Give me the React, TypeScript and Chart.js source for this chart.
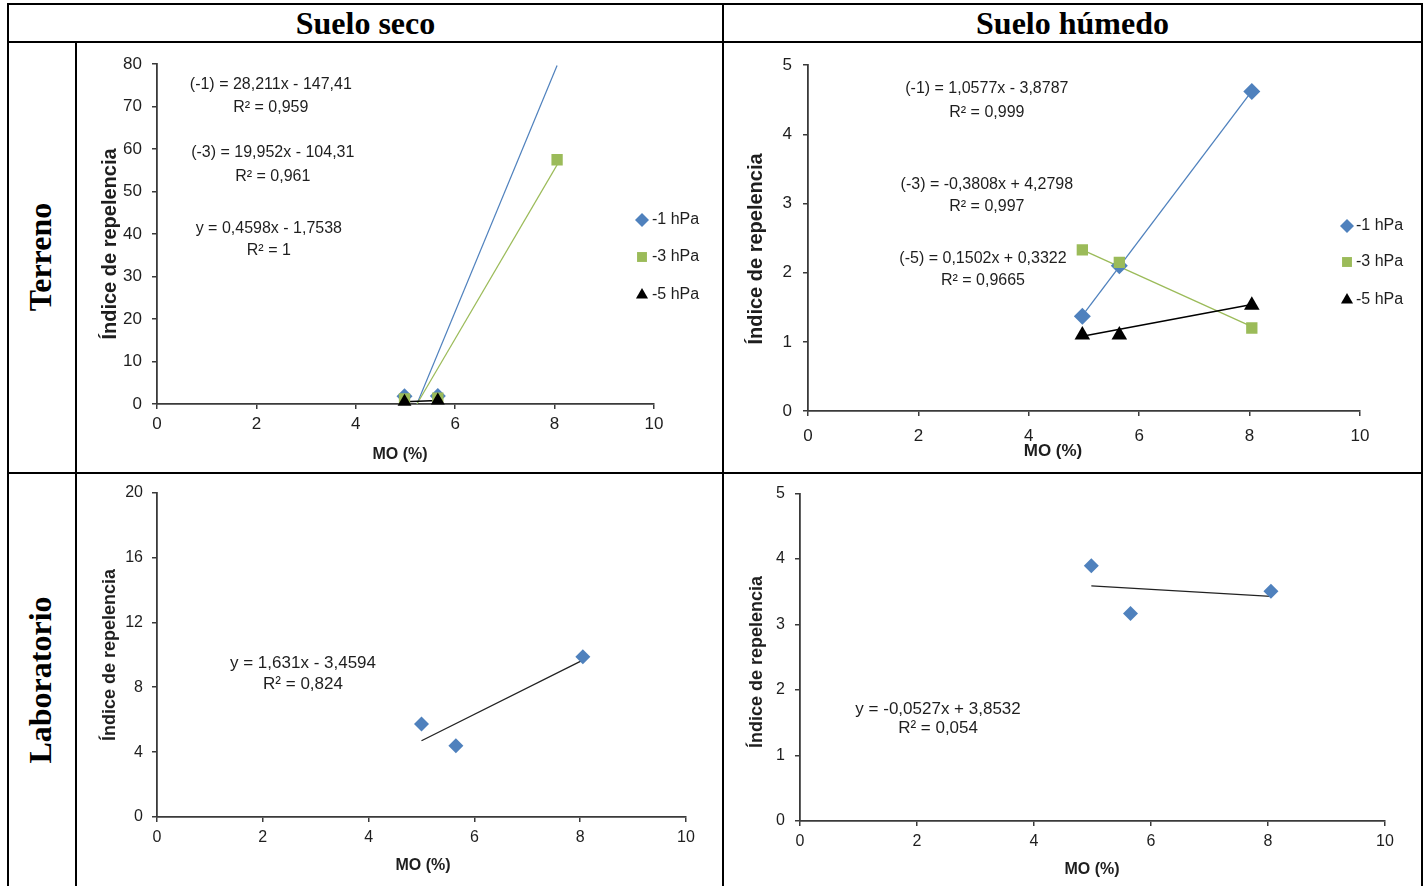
import React, { useEffect, useRef } from 'react';
import { Chart, registerables } from 'chart.js';
import { drawPoint } from 'chart.js/helpers';

Chart.register(...registerables);

// ---------- DATA ----------
// Suelo seco - Terreno
const secoTerrenoX = [4.98, 5.65, 8.05];
const secoTerreno1 = [1.8, 1.9, 82.5];
const secoTerreno3 = [1.2, 1.4, 57.5];
const secoTerreno5X = [4.98, 5.65];
const secoTerreno5 = [0.54, 0.84];
const secoTerrenoTrend1X = [5.23, 8.05];
const secoTerrenoTrend1Y = [0, 79.7];
const secoTerrenoTrend3X = [5.23, 8.05];
const secoTerrenoTrend3Y = [0, 56.3];
const secoTerrenoTrend5X = [4.98, 5.65];
const secoTerrenoTrend5Y = [0.54, 0.84];

// Suelo húmedo - Terreno
const humedoTerrenoX = [4.97, 5.64, 8.04];
const humedoTerreno1 = [1.37, 2.1, 4.62];
const humedoTerreno3 = [2.33, 2.15, 1.2];
const humedoTerreno5 = [1.1, 1.1, 1.53];
const humedoTerrenoTrendX = [4.97, 8.04];
const humedoTerrenoTrend1Y = [1.38, 4.625];
const humedoTerrenoTrend3Y = [2.33, 1.22];
const humedoTerrenoTrend5Y = [1.08, 1.54];

// Suelo seco - Laboratorio
const secoLabX = [5.0, 5.65, 8.05];
const secoLab1 = [5.73, 4.39, 9.88];
const secoLabTrendX = [5.0, 8.05];
const secoLabTrendY = [4.7, 9.67];

// Suelo húmedo - Laboratorio
const humedoLabX = [4.98, 5.65, 8.05];
const humedoLab1 = [3.9, 3.17, 3.51];
const humedoLabTrendX = [4.98, 8.05];
const humedoLabTrendY = [3.59, 3.43];

const seriesNames = ['-1 hPa', '-3 hPa', '-5 hPa'];
const xTicksLabel = 'MO (%)';
const yTitleLabel = 'Índice de repelencia';

const BLUE = '#4F81BD';
const GREEN = '#9BBB59';
const BLACK = '#000000';

const pts = (xs: number[], ys: number[]) => xs.map((x, i) => ({ x, y: ys[i] }));

const SANS = "'Liberation Sans', Arial, sans-serif";

type Label = { x: number; y: number; text: string };
type Spec = {
  left: number; top: number; w: number; h: number;
  padTop: number; padRight: number; yw: number; xh: number;
  ymax: number; ystep: number;
  tickFamily: string; tickSize: number; yTickPad: number; xTickPad: number;
  xTitle: { x: number; y: number; font: string };
  yTitle: { x: number; y: number; font: string };
  labelFont: string;
  labels: Label[];
  legend?: { mx: number; tx: number; ys: number[]; font: string; styles: { ps: string; color: string; r: number }[] };
  datasets: any[];
};

function scatterSet(label: string, data: any[], color: string, ps: string, r: number) {
  return {
    label, data, type: 'scatter', showLine: false,
    pointStyle: ps, pointRadius: r, pointHoverRadius: r,
    backgroundColor: color, borderColor: color, pointBorderWidth: 0,
    clip: { left: 14, top: 0, right: 14, bottom: 14 },
  };
}
function trendSet(data: any[], color: string, width: number) {
  return {
    label: 'trend', data, type: 'scatter', showLine: true,
    pointRadius: 0, borderColor: color, borderWidth: width, backgroundColor: color,
    clip: 0,
  };
}

const specs: Spec[] = [
  {
    left: 78, top: 44, w: 643, h: 427, padTop: 18, padRight: 67, yw: 79, xh: 67,
    ymax: 80, ystep: 10, tickFamily: SANS, tickSize: 17, yTickPad: 10, xTickPad: 5,
    xTitle: { x: 322, y: 411, font: `bold 16px ${SANS}` },
    yTitle: { x: 32, y: 200, font: `bold 20px ${SANS}` },
    labelFont: `16px ${SANS}`,
    labels: [
      { x: 2.29, y: 75.3, text: '(-1) = 28,211x - 147,41' },
      { x: 2.29, y: 69.9, text: 'R² = 0,959' },
      { x: 2.33, y: 59.2, text: '(-3) = 19,952x - 104,31' },
      { x: 2.33, y: 53.6, text: 'R² = 0,961' },
      { x: 2.25, y: 41.4, text: 'y = 0,4598x - 1,7538' },
      { x: 2.25, y: 36.0, text: 'R² = 1' },
    ],
    legend: {
      mx: 564, tx: 574, ys: [176, 213, 251], font: `16px ${SANS}`,
      styles: [{ ps: 'rectRot', color: BLUE, r: 7 }, { ps: 'rect', color: GREEN, r: 7 }, { ps: 'triangle', color: BLACK, r: 7 }],
    },
    datasets: [
      scatterSet(seriesNames[2], pts(secoTerreno5X, secoTerreno5), BLACK, 'triangle', 8),
      scatterSet(seriesNames[1], pts(secoTerrenoX, secoTerreno3), GREEN, 'rect', 8),
      scatterSet(seriesNames[0], pts(secoTerrenoX, secoTerreno1), BLUE, 'rectRot', 8),
      trendSet(pts(secoTerrenoTrend5X, secoTerrenoTrend5Y), BLACK, 1.5),
      trendSet(pts(secoTerrenoTrend3X, secoTerrenoTrend3Y), GREEN, 1.2),
      trendSet(pts(secoTerrenoTrend1X, secoTerrenoTrend1Y), BLUE, 1.2),
    ],
  },
  {
    left: 724, top: 44, w: 697, h: 427, padTop: 19, padRight: 61, yw: 84, xh: 60,
    ymax: 5, ystep: 1, tickFamily: SANS, tickSize: 17, yTickPad: 11, xTickPad: 10,
    xTitle: { x: 329, y: 407, font: `bold 17px ${SANS}` },
    yTitle: { x: 32, y: 205, font: `bold 20px ${SANS}` },
    labelFont: `16px ${SANS}`,
    labels: [
      { x: 3.24, y: 4.66, text: '(-1) = 1,0577x - 3,8787' },
      { x: 3.24, y: 4.32, text: 'R² = 0,999' },
      { x: 3.24, y: 3.28, text: '(-3) = -0,3808x + 4,2798' },
      { x: 3.24, y: 2.95, text: 'R² = 0,997' },
      { x: 3.17, y: 2.21, text: '(-5) = 0,1502x + 0,3322' },
      { x: 3.17, y: 1.88, text: 'R² = 0,9665' },
    ],
    legend: {
      mx: 623, tx: 632, ys: [182, 218, 256], font: `16px ${SANS}`,
      styles: [{ ps: 'rectRot', color: BLUE, r: 7 }, { ps: 'rect', color: GREEN, r: 7 }, { ps: 'triangle', color: BLACK, r: 7 }],
    },
    datasets: [
      scatterSet(seriesNames[2], pts(humedoTerrenoX, humedoTerreno5), BLACK, 'triangle', 9),
      scatterSet(seriesNames[1], pts(humedoTerrenoX, humedoTerreno3), GREEN, 'rect', 8),
      scatterSet(seriesNames[0], pts(humedoTerrenoX, humedoTerreno1), BLUE, 'rectRot', 8.5),
      trendSet(pts(humedoTerrenoTrendX, humedoTerrenoTrend5Y), BLACK, 1.5),
      trendSet(pts(humedoTerrenoTrendX, humedoTerrenoTrend3Y), GREEN, 1.3),
      trendSet(pts(humedoTerrenoTrendX, humedoTerrenoTrend1Y), BLUE, 1.3),
    ],
  },
  {
    left: 78, top: 474, w: 643, h: 412, padTop: 15, padRight: 35, yw: 79, xh: 69,
    ymax: 20, ystep: 4, tickFamily: SANS, tickSize: 16, yTickPad: 9, xTickPad: 6,
    xTitle: { x: 345, y: 392, font: `bold 16px ${SANS}` },
    yTitle: { x: 32, y: 181, font: `bold 18px ${SANS}` },
    labelFont: `17px ${SANS}`,
    labels: [
      { x: 2.76, y: 9.45, text: 'y = 1,631x - 3,4594' },
      { x: 2.76, y: 8.17, text: 'R² = 0,824' },
    ],
    datasets: [
      scatterSet(seriesNames[0], pts(secoLabX, secoLab1), BLUE, 'rectRot', 7.5),
      trendSet(pts(secoLabTrendX, secoLabTrendY), '#222222', 1.3),
    ],
  },
  {
    left: 724, top: 474, w: 697, h: 412, padTop: 14, padRight: 36, yw: 76, xh: 65,
    ymax: 5, ystep: 1, tickFamily: SANS, tickSize: 16, yTickPad: 10, xTickPad: 6,
    xTitle: { x: 368, y: 396, font: `bold 16px ${SANS}` },
    yTitle: { x: 33, y: 188, font: `bold 18px ${SANS}` },
    labelFont: `17px ${SANS}`,
    labels: [
      { x: 2.36, y: 1.71, text: 'y = -0,0527x + 3,8532' },
      { x: 2.36, y: 1.41, text: 'R² = 0,054' },
    ],
    datasets: [
      scatterSet(seriesNames[0], pts(humedoLabX, humedoLab1), BLUE, 'rectRot', 7.5),
      trendSet(pts(humedoLabTrendX, humedoLabTrendY), '#222222', 1.3),
    ],
  },
];

function buildConfig(spec: Spec): any {
  const axisColor = '#3a3a3a';
  const overlay = {
    id: 'overlay',
    afterDraw(chart: any) {
      const ctx = chart.ctx;
      const xs = chart.scales.x;
      const ys = chart.scales.y;
      ctx.save();
      ctx.fillStyle = '#1e1e1e';
      ctx.textAlign = 'center';
      ctx.textBaseline = 'middle';
      ctx.font = spec.labelFont;
      for (const l of spec.labels) {
        ctx.fillText(l.text, xs.getPixelForValue(l.x), ys.getPixelForValue(l.y));
      }
      ctx.font = spec.xTitle.font;
      ctx.fillText(xTicksLabel, spec.xTitle.x, spec.xTitle.y);
      ctx.save();
      ctx.translate(spec.yTitle.x, spec.yTitle.y);
      ctx.rotate(-Math.PI / 2);
      ctx.font = spec.yTitle.font;
      ctx.fillText(yTitleLabel, 0, 0);
      ctx.restore();
      if (spec.legend) {
        const lg = spec.legend;
        lg.styles.forEach((st, i) => {
          ctx.fillStyle = st.color;
          ctx.strokeStyle = st.color;
          drawPoint(ctx, { pointStyle: st.ps, radius: st.r, rotation: 0, borderWidth: 0 } as any, lg.mx, lg.ys[i]);
          ctx.fillStyle = '#1e1e1e';
          ctx.font = lg.font;
          ctx.textAlign = 'left';
          ctx.fillText(seriesNames[i], lg.tx, lg.ys[i]);
        });
      }
      ctx.restore();
    },
  };
  const tickFont = { family: spec.tickFamily, size: spec.tickSize };
  return {
    type: 'scatter',
    data: { datasets: spec.datasets },
    options: {
      animation: false,
      responsive: false,
      devicePixelRatio: 1,
      events: [],
      layout: { padding: { top: spec.padTop, right: spec.padRight, left: 0, bottom: 0 } },
      plugins: { legend: { display: false }, tooltip: { enabled: false }, title: { display: false } },
      scales: {
        x: {
          type: 'linear', min: 0, max: 10,
          ticks: { stepSize: 2, font: tickFont, color: '#1e1e1e', padding: spec.xTickPad, maxRotation: 0 },
          grid: { display: true, drawOnChartArea: false, drawTicks: true, tickLength: 5, color: axisColor, lineWidth: 1.5 },
          border: { display: true, color: axisColor, width: 1.8 },
          afterFit: (s: any) => { s.height = spec.xh; },
        },
        y: {
          type: 'linear', min: 0, max: spec.ymax,
          ticks: { stepSize: spec.ystep, font: tickFont, color: '#1e1e1e', padding: spec.yTickPad },
          grid: { display: true, drawOnChartArea: false, drawTicks: true, tickLength: 5, color: axisColor, lineWidth: 1.5 },
          border: { display: true, color: axisColor, width: 1.8 },
          afterFit: (s: any) => { s.width = spec.yw; },
        },
      },
    },
    plugins: [overlay],
  };
}

function Panel({ spec }: { spec: Spec }) {
  const ref = useRef<HTMLCanvasElement>(null);
  useEffect(() => {
    const chart = new Chart(ref.current as HTMLCanvasElement, buildConfig(spec));
    return () => chart.destroy();
  }, [spec]);
  return (
    <canvas
      ref={ref}
      width={spec.w}
      height={spec.h}
      style={{ position: 'absolute', left: spec.left, top: spec.top, width: spec.w, height: spec.h }}
    />
  );
}

const line = (left: number, top: number, width: number, height: number) => (
  <div style={{ position: 'absolute', left, top, width, height, background: '#000' }} />
);

const SERIF = "'Liberation Serif', 'Times New Roman', serif";

export default function App() {
  return (
    <div style={{ position: 'absolute', left: 0, top: 0, width: 1428, height: 886, background: '#fff', overflow: 'hidden' }}>
      {specs.map((s, i) => <Panel key={i} spec={s} />)}
      {line(7, 3, 1416, 2)}
      {line(7, 3, 2, 883)}
      {line(1421, 3, 2, 883)}
      {line(7, 41, 1416, 2)}
      {line(7, 472, 1416, 2)}
      {line(75, 41, 2, 845)}
      {line(722, 3, 2, 883)}
      <div style={{ position: 'absolute', left: 9, top: 5, width: 713, height: 36, display: 'flex', alignItems: 'center', justifyContent: 'center', font: `bold 32px ${SERIF}`, color: '#000' }}>Suelo seco</div>
      <div style={{ position: 'absolute', left: 724, top: 5, width: 697, height: 36, display: 'flex', alignItems: 'center', justifyContent: 'center', font: `bold 32px ${SERIF}`, color: '#000' }}>Suelo húmedo</div>
      <div style={{ position: 'absolute', left: 40, top: 257, transform: 'translate(-50%, -50%) rotate(-90deg)', whiteSpace: 'nowrap', font: `bold 32px ${SERIF}`, color: '#000' }}>Terreno</div>
      <div style={{ position: 'absolute', left: 40, top: 680, transform: 'translate(-50%, -50%) rotate(-90deg)', whiteSpace: 'nowrap', font: `bold 32px ${SERIF}`, color: '#000' }}>Laboratorio</div>
    </div>
  );
}
